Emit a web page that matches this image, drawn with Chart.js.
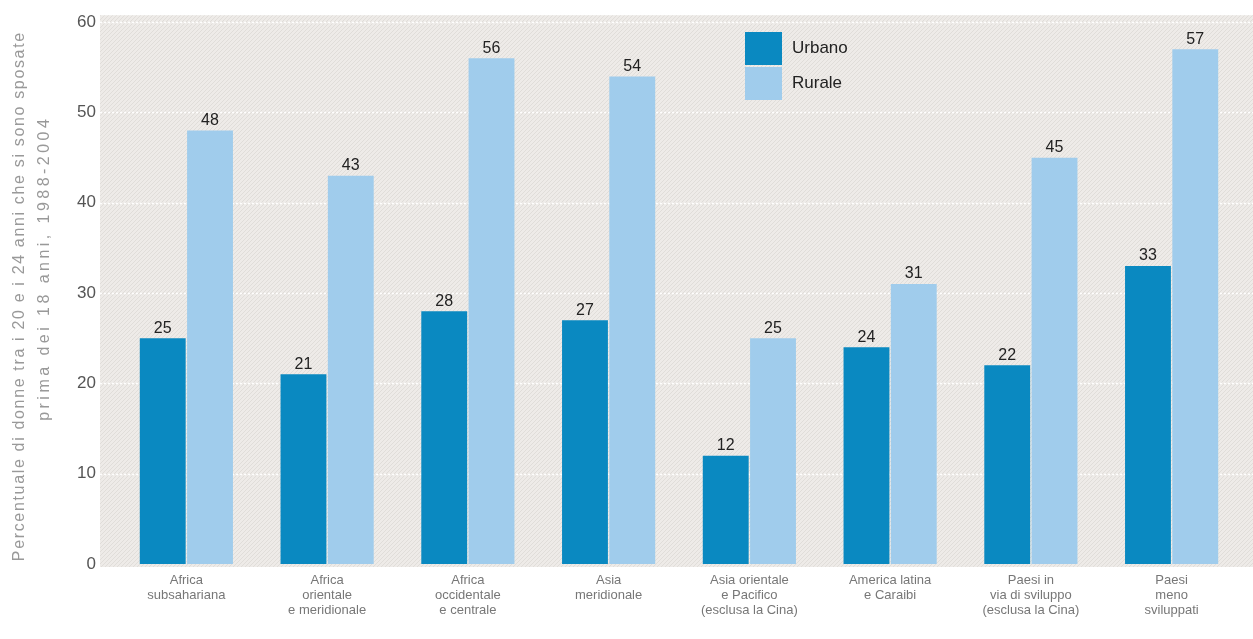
<!DOCTYPE html>
<html>
<head>
<meta charset="utf-8">
<script src="https://cdn.jsdelivr.net/npm/chart.js@4.4.1/dist/chart.umd.min.js"></script>
<style>
  html, body { margin: 0; padding: 0; background: #fff; }
  #wrap { position: relative; width: 1253px; height: 639px; }
</style>
</head>
<body>
<div id="wrap"><canvas id="c"></canvas></div>
<script>
(function () {
    'use strict';

    // ---- data ----
    var categories = [
        ['Africa', 'subsahariana'],
        ['Africa', 'orientale', 'e meridionale'],
        ['Africa', 'occidentale', 'e centrale'],
        ['Asia', 'meridionale'],
        ['Asia orientale', 'e Pacifico', '(esclusa la Cina)'],
        ['America latina', 'e Caraibi'],
        ['Paesi in', 'via di sviluppo', '(esclusa la Cina)'],
        ['Paesi', 'meno', 'sviluppati']
    ];
    var urbano = [25, 21, 28, 27, 12, 24, 22, 33];
    var rurale = [48, 43, 56, 54, 25, 31, 45, 57];
    var yTicks = [0, 10, 20, 30, 40, 50, 60];
    var yTitle = ['Percentuale di donne tra i 20 e i 24 anni che si sono sposate',
                  'prima dei 18 anni, 1988-2004'];

    var COL_URB = '#0a89c1';
    var COL_RUR = '#a0ccec';
    var FONT = '"Liberation Sans", Arial, sans-serif';

    // hatched grey background used behind the plot
    function makePattern(ctx) {
        var p = document.createElement('canvas');
        p.width = 4; p.height = 4;
        var g = p.getContext('2d');
        g.fillStyle = '#eeebe8';
        g.fillRect(0, 0, 4, 4);
        g.fillStyle = '#e0ddd9';
        for (var i = 0; i < 4; i++) g.fillRect(i, 3 - i, 1, 1);
        return ctx.createPattern(p, 'repeat');
    }

    var backdrop = {
        id: 'backdrop',
        beforeDraw: function (chart) {
            var ctx = chart.ctx, y = chart.scales.y;
            var top = y.getPixelForValue(60) - 7, bottom = y.getPixelForValue(0) + 3;
            ctx.save();
            ctx.fillStyle = makePattern(ctx);
            ctx.fillRect(100, top, chart.width - 100, bottom - top);
            // white dotted gridlines
            ctx.strokeStyle = 'rgba(255,255,255,0.95)';
            ctx.lineWidth = 1.5;
            ctx.setLineDash([2, 2]);
            yTicks.forEach(function (v) {
                if (v === 0) return;
                var py = Math.round(y.getPixelForValue(v)) + 0.5;
                ctx.beginPath();
                ctx.moveTo(100, py);
                ctx.lineTo(chart.width, py);
                ctx.stroke();
            });
            ctx.restore();
        }
    };

    // rotated two-line axis title, spaced out like the printed original
    var axisTitle = {
        id: 'axisTitle',
        afterDraw: function (chart) {
            var ctx = chart.ctx;
            var spots = [{ x: 20, y: 297, len: 530 }, { x: 45, y: 270, len: 305 }];
            ctx.save();
            ctx.fillStyle = '#999';
            ctx.font = '16px ' + FONT;
            ctx.textAlign = 'center';
            ctx.textBaseline = 'middle';
            yTitle.forEach(function (t, i) {
                var s = spots[i];
                ctx.letterSpacing = '0px';
                var w = ctx.measureText(t).width;
                var ls = Math.max(0, (s.len - w) / t.length);
                ctx.letterSpacing = ls.toFixed(2) + 'px';
                ctx.save();
                ctx.translate(s.x, s.y);
                ctx.rotate(-Math.PI / 2);
                ctx.fillText(t, ls / 2, 0);
                ctx.restore();
            });
            ctx.restore();
        }
    };

    var valueLabels = {
        id: 'valueLabels',
        afterDatasetsDraw: function (chart) {
            var ctx = chart.ctx;
            ctx.save();
            ctx.fillStyle = '#222';
            ctx.font = '16px ' + FONT;
            ctx.textAlign = 'center';
            ctx.textBaseline = 'bottom';
            chart.data.datasets.forEach(function (ds, i) {
                chart.getDatasetMeta(i).data.forEach(function (bar, j) {
                    ctx.fillText(String(ds.data[j]), bar.x, bar.y - 2);
                });
            });
            ctx.restore();
        }
    };

    var boxLegend = {
        id: 'boxLegend',
        afterDraw: function (chart) {
            var ctx = chart.ctx;
            ctx.save();
            ctx.font = '17px ' + FONT;
            ctx.textBaseline = 'middle';
            chart.data.datasets.forEach(function (ds, i) {
                var top = 32 + i * 35;
                ctx.fillStyle = ds.backgroundColor;
                ctx.fillRect(745, top, 37, 33);
                ctx.fillStyle = '#222';
                ctx.fillText(ds.label, 792, top + 16);
            });
            ctx.restore();
        }
    };

    new Chart(document.getElementById('c'), {
        type: 'bar',
        data: {
            labels: categories,
            datasets: [
                { label: 'Urbano', data: urbano, backgroundColor: COL_URB },
                { label: 'Rurale', data: rurale, backgroundColor: COL_RUR }
            ]
        },
        options: {
            responsive: true,
            maintainAspectRatio: false,
            animation: false,
            layout: { padding: { top: 21, right: 11, left: 0, bottom: 0 } },
            datasets: { bar: { categoryPercentage: 0.672, barPercentage: 0.97 } },
            plugins: { legend: { display: false }, tooltip: { enabled: false } },
            scales: {
                x: {
                    grid: { display: false }, border: { display: false },
                    afterFit: function (s) { s.height = 75; },
                    ticks: { color: '#777', padding: 1, maxRotation: 0, autoSkip: false,
                        font: { family: FONT, size: 13, lineHeight: 1.15 } }
                },
                y: {
                    min: 0, max: 60,
                    grid: { display: false }, border: { display: false },
                    afterFit: function (s) { s.width = 116; },
                    afterBuildTicks: function (s) {
                        s.ticks = yTicks.map(function (v) { return { value: v }; });
                    },
                    ticks: { color: '#555', padding: 12, font: { family: FONT, size: 17 } }
                }
            }
        },
        plugins: [backdrop, axisTitle, valueLabels, boxLegend]
    });
})();
</script>
</body>
</html>
